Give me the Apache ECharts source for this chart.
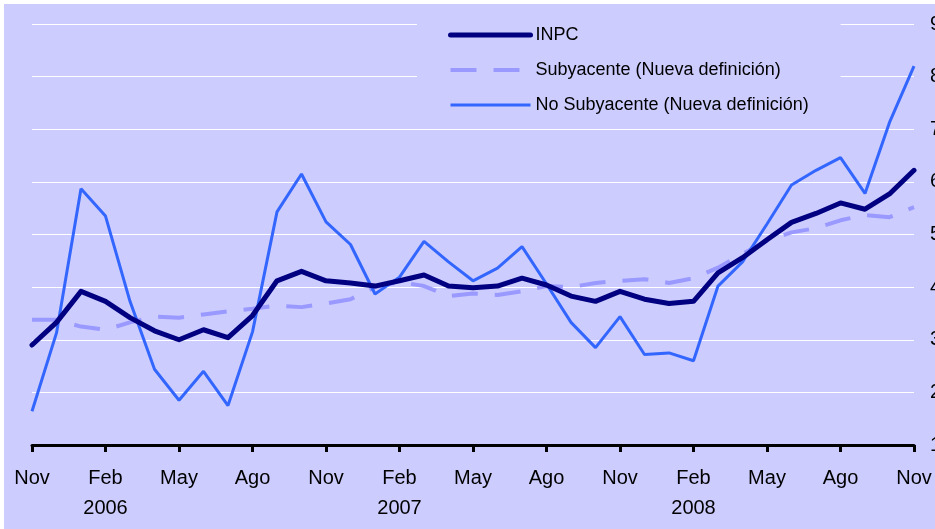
<!DOCTYPE html>
<html>
<head>
<meta charset="utf-8">
<script src="https://cdn.jsdelivr.net/npm/echarts@6/dist/echarts.min.js"></script>
<style>
html, body { margin: 0; padding: 0; background: #ffffff; }
#main { position: absolute; left: 4px; top: 4px; width: 931px; height: 525px; background: #ccccff; }
</style>
</head>
<body>
<div id="main"></div>
<script>
var months = ['Nov 2005', 'Dic 2005',
    'Ene 2006', 'Feb 2006', 'Mar 2006', 'Abr 2006', 'May 2006', 'Jun 2006',
    'Jul 2006', 'Ago 2006', 'Sep 2006', 'Oct 2006', 'Nov 2006', 'Dic 2006',
    'Ene 2007', 'Feb 2007', 'Mar 2007', 'Abr 2007', 'May 2007', 'Jun 2007',
    'Jul 2007', 'Ago 2007', 'Sep 2007', 'Oct 2007', 'Nov 2007', 'Dic 2007',
    'Ene 2008', 'Feb 2008', 'Mar 2008', 'Abr 2008', 'May 2008', 'Jun 2008',
    'Jul 2008', 'Ago 2008', 'Sep 2008', 'Oct 2008', 'Nov 2008'];

var inpc = [2.90, 3.33, 3.92, 3.73, 3.42, 3.17, 3.00, 3.19, 3.04, 3.46,
    4.12, 4.30, 4.12, 4.08, 4.02, 4.12, 4.23, 4.02, 3.99, 4.02,
    4.17, 4.04, 3.83, 3.73, 3.92, 3.77, 3.69, 3.73, 4.27, 4.56,
    4.90, 5.23, 5.40, 5.60, 5.48, 5.77, 6.22];

var subyacente = [3.38, 3.38, 3.25, 3.19, 3.33, 3.44, 3.42, 3.48, 3.54, 3.59,
    3.65, 3.62, 3.69, 3.77, 4.00, 4.10, 4.02, 3.83, 3.88, 3.85,
    3.92, 4.02, 4.00, 4.08, 4.12, 4.15, 4.08, 4.17, 4.37, 4.63,
    4.88, 5.04, 5.12, 5.27, 5.37, 5.33, 5.52];

var noSubyacente = [1.64, 3.13, 5.87, 5.35, 3.73, 2.44, 1.85, 2.40, 1.75, 3.15,
    5.43, 6.15, 5.24, 4.81, 3.87, 4.19, 4.87, 4.48, 4.12, 4.36,
    4.77, 4.06, 3.33, 2.85, 3.44, 2.72, 2.75, 2.60, 4.02, 4.48,
    5.20, 5.94, 6.22, 6.46, 5.78, 7.13, 8.20];

var seriesNames = ['INPC', 'Subyacente (Nueva definición)', 'No Subyacente (Nueva definición)'];

var FONT = 'Liberation Sans, Arial, sans-serif';
var noMark = { color: 'rgba(0,0,0,0)', borderWidth: 0, opacity: 0 };

var chart = echarts.init(document.getElementById('main'), null, { renderer: 'canvas' });

var option = {
    backgroundColor: '#ccccff',
    animation: false,
    textStyle: { fontFamily: FONT, color: '#000000' },
    grid: { left: 28, right: 21, top: 20, bottom: 84, containLabel: false, outerBoundsMode: 'none' },
    legend: {
        orient: 'vertical',
        left: 413,
        top: 10,
        padding: [12, 32, 12, 31],
        backgroundColor: '#ccccff',
        itemWidth: 80,
        itemHeight: 14,
        itemGap: 17,
        textStyle: { fontFamily: FONT, fontSize: 18, color: '#000000' },
        data: [
            { name: seriesNames[0], itemStyle: noMark, lineStyle: { color: '#000080', width: 5, type: 'solid' } },
            { name: seriesNames[1], itemStyle: noMark, lineStyle: { color: '#9999ff', width: 4, type: [26, 17] } },
            { name: seriesNames[2], itemStyle: noMark, lineStyle: { color: '#3366ff', width: 3, type: 'solid' } }
        ]
    },
    xAxis: {
        type: 'category',
        boundaryGap: false,
        data: months,
        axisLine: { lineStyle: { color: '#000000', width: 3 } },
        axisTick: { interval: 2, length: 7, lineStyle: { color: '#000000', width: 3 } },
        axisLabel: {
            interval: 2,
            margin: 18,
            fontSize: 20,
            lineHeight: 30,
            color: '#000000',
            fontFamily: FONT,
            formatter: function (v) {
                var p = v.split(' ');
                return p[0] === 'Feb' ? p[0] + '\n' + p[1] : p[0];
            }
        },
        splitLine: { show: false }
    },
    yAxis: {
        type: 'value',
        position: 'right',
        min: 1,
        max: 9,
        interval: 1,
        axisLine: { show: false },
        axisTick: { show: false },
        axisLabel: { margin: 16, fontSize: 20, color: '#000000', fontFamily: FONT },
        splitLine: { lineStyle: { color: '#ffffff', width: 1 } }
    },
    series: [{
        name: seriesNames[1],
        type: 'line',
        data: subyacente,
        showSymbol: false,
        symbol: 'none',
        z: 2,
        lineStyle: { color: '#9999ff', width: 4, type: [26, 17] },
        itemStyle: { color: '#9999ff' }
    }, {
        name: seriesNames[2],
        type: 'line',
        data: noSubyacente,
        showSymbol: false,
        symbol: 'none',
        z: 3,
        lineStyle: { color: '#3366ff', width: 3 },
        itemStyle: { color: '#3366ff' }
    }, {
        name: seriesNames[0],
        type: 'line',
        data: inpc,
        showSymbol: false,
        symbol: 'none',
        z: 4,
        lineStyle: { color: '#000080', width: 5, cap: 'round', join: 'round' },
        itemStyle: { color: '#000080' }
    }]
};

chart.setOption(option);
</script>
</body>
</html>
